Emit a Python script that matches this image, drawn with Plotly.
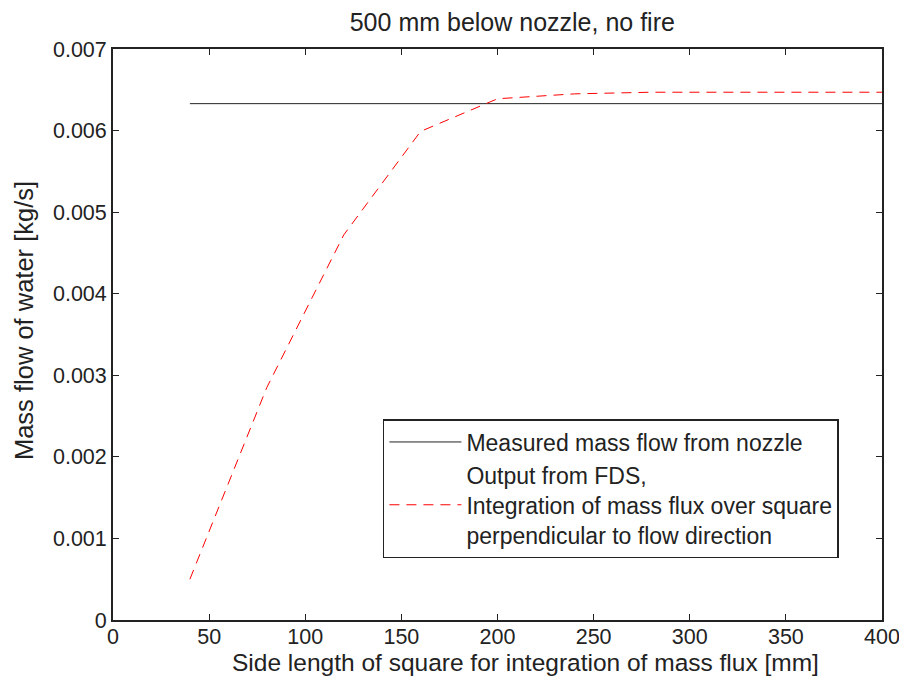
import plotly.graph_objects as go

# side length of square [mm]
side_fds = [40, 80, 120, 160, 200, 240, 280, 320, 360, 400]
flow_fds = [0.00050, 0.00285, 0.00472, 0.00599, 0.00639, 0.00645, 0.00647, 0.00647, 0.00647, 0.00647]

side_meas = [40, 400]
flow_meas = [0.00633, 0.00633]

y_ticks = [0, 0.001, 0.002, 0.003, 0.004, 0.005, 0.006, 0.007]
y_labels = ["0", "0.001", "0.002", "0.003", "0.004", "0.005", "0.006", "0.007"]
x_ticks = [0, 50, 100, 150, 200, 250, 300, 350, 400]

fig = go.Figure()
fig.add_trace(go.Scatter(x=side_meas, y=flow_meas, mode="lines",
                         line=dict(color="#222", width=1),
                         name="Measured mass flow from nozzle"))
fig.add_trace(go.Scatter(x=side_fds, y=flow_fds, mode="lines",
                         line=dict(color="red", width=1, dash="10px,7px"),
                         name="Output from FDS,<br>Integration of mass flux over square<br>perpendicular to flow direction"))

axis_style = dict(showline=True, linecolor="#222", linewidth=1.8, mirror="ticks",
                  ticks="inside", ticklen=6, tickcolor="#222", showgrid=False,
                  zeroline=False, ticklabeloverflow="allow", automargin=False,
                  tickfont=dict(size=21.5, color="#222"))

# page has 8px body margin, so figure is 891x668 to keep the plot box in place
fig.update_layout(
    width=891, height=668,
    margin=dict(l=105, r=17, t=41, b=56),
    paper_bgcolor="white", plot_bgcolor="white",
    font=dict(family="Liberation Sans, Arial, sans-serif", color="#222", size=21),
    title=dict(text="500 mm below nozzle, no fire", x=0.566, xanchor="center",
               y=0.979, yanchor="middle", font=dict(size=25)),
    xaxis=dict(range=[0, 400], tickvals=x_ticks, ticklabelstandoff=-4, **axis_style),
    yaxis=dict(range=[0, 0.007], tickvals=y_ticks, ticktext=y_labels, **axis_style),
    legend=dict(x=0.351, y=0.352, xanchor="left", yanchor="top",
                bordercolor="#222", borderwidth=1.5, bgcolor="white",
                font=dict(size=23), tracegroupgap=0, itemwidth=72),
    showlegend=True,
)

# axis titles as annotations (they sit slightly off-centre in the original)
fig.add_annotation(text="Side length of square for integration of mass flux [mm]",
                   xref="paper", yref="paper", x=0.536, y=-0.0745,
                   xanchor="center", yanchor="middle", showarrow=False,
                   font=dict(size=24.5))
fig.add_annotation(text="Mass flow of water [kg/s]",
                   xref="paper", yref="paper", x=-0.1157, y=0.5236,
                   xanchor="center", yanchor="middle", showarrow=False,
                   textangle=-90, font=dict(size=25.5))

fig.write_html("out.html")
